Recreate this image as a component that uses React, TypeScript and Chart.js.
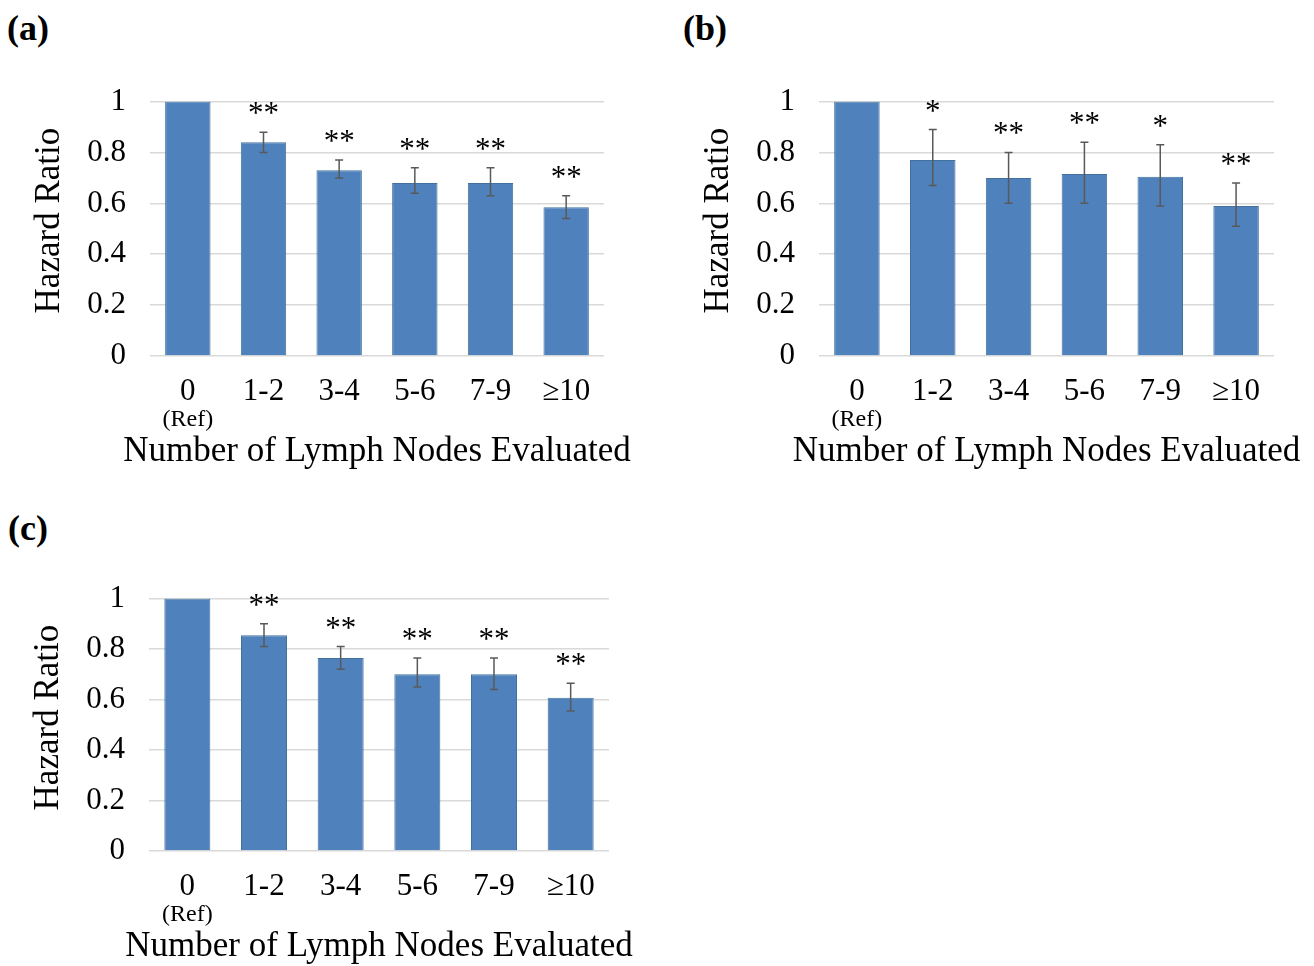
import React, { useEffect, useRef } from 'react';
import { Chart, registerables } from 'chart.js';

Chart.register(...registerables);

const categories = ['0', '1-2', '3-4', '5-6', '7-9', '≥10'];
const refNote = '(Ref)';
const yTickLabels = ['0', '0.2', '0.4', '0.6', '0.8', '1'];
const yTitle = 'Hazard Ratio';
const xTitle = 'Number of Lymph Nodes Evaluated';

// Panel (a)
const hrA = [1, 0.84, 0.73, 0.68, 0.68, 0.585];
const loA = [null, 0.8, 0.7, 0.64, 0.63, 0.54];
const hiA = [null, 0.88, 0.77, 0.74, 0.74, 0.63];
const starsA = ['', '**', '**', '**', '**', '**'];

// Panel (b)
const hrB = [1, 0.77, 0.7, 0.715, 0.705, 0.59];
const loB = [null, 0.67, 0.6, 0.6, 0.59, 0.51];
const hiB = [null, 0.89, 0.8, 0.84, 0.83, 0.68];
const starsB = ['', '*', '**', '**', '*', '**'];

// Panel (c)
const hrC = [1, 0.855, 0.765, 0.7, 0.7, 0.607];
const loC = [null, 0.81, 0.72, 0.65, 0.64, 0.555];
const hiC = [null, 0.9, 0.81, 0.765, 0.765, 0.665];
const starsC = ['', '**', '**', '**', '**', '**'];

const serif = "'Liberation Serif', 'Times New Roman', Times, serif";

type PanelProps = {
  hr: number[];
  lo: (number | null)[];
  hi: (number | null)[];
  stars: string[];
  left: number;
  top: number;
  width: number;
  height: number;
};

function Panel({ hr, lo, hi, stars, left, top, width, height }: PanelProps) {
  const ref = useRef<HTMLCanvasElement | null>(null);

  useEffect(() => {
    if (!ref.current) return;
    const extras = {
      id: 'extras',
      afterDatasetsDraw(chart: any) {
        const { ctx, chartArea } = chart;
        const x = chart.scales.x;
        const y = chart.scales.y;
        ctx.save();
        // error bars
        ctx.strokeStyle = '#595959';
        ctx.lineWidth = 1.5;
        for (let i = 0; i < hr.length; i++) {
          const l = lo[i];
          const h = hi[i];
          if (l == null || h == null) continue;
          const px = x.getPixelForValue(i);
          const yl = y.getPixelForValue(l);
          const yh = y.getPixelForValue(h);
          ctx.beginPath();
          ctx.moveTo(px, yl);
          ctx.lineTo(px, yh);
          ctx.moveTo(px - 4, yl);
          ctx.lineTo(px + 4, yl);
          ctx.moveTo(px - 4, yh);
          ctx.lineTo(px + 4, yh);
          ctx.stroke();
        }
        // significance stars
        ctx.fillStyle = '#000';
        ctx.font = `31px ${serif}`;
        ctx.textAlign = 'center';
        ctx.textBaseline = 'alphabetic';
        for (let i = 0; i < hr.length; i++) {
          if (!stars[i]) continue;
          const topVal = hi[i] != null ? (hi[i] as number) : hr[i];
          const px = x.getPixelForValue(i);
          const py = y.getPixelForValue(topVal);
          ctx.fillText(stars[i], px, py - 9);
        }
        // (Ref) note under the first category
        ctx.font = `24px ${serif}`;
        ctx.textBaseline = 'middle';
        ctx.fillText(refNote, x.getPixelForValue(0), chartArea.bottom + 64);
        // x axis title (not width-constrained)
        ctx.font = `35px ${serif}`;
        ctx.fillText(xTitle, (chartArea.left + chartArea.right) / 2, chartArea.bottom + 96);
        // y axis title
        ctx.translate(chartArea.left - 100, chartArea.top + 119);
        ctx.rotate(-Math.PI / 2);
        ctx.fillText(yTitle, 0, 0);
        ctx.restore();
      },
    };

    const chart = new Chart(ref.current, {
      type: 'bar',
      data: {
        labels: categories,
        datasets: [
          {
            data: hr,
            backgroundColor: '#4f81bd',
            borderColor: '#41719c',
            borderWidth: 1,
            barPercentage: 0.6,
            categoryPercentage: 1,
          },
        ],
      },
      options: {
        animation: false,
        responsive: false,
        maintainAspectRatio: false,
        layout: { padding: { top: 40, right: 30, left: 0, bottom: 0 } },
        plugins: { legend: { display: false }, tooltip: { enabled: false } },
        scales: {
          x: {
            grid: { display: false, drawTicks: false },
            border: { display: false },
            ticks: {
              font: { family: serif, size: 31, lineHeight: 1.2 },
              color: '#000',
              padding: 17,
              maxRotation: 0,
              autoSkip: false,
            },
            afterFit: (s: any) => {
              s.height = 124;
            },
          },
          y: {
            min: 0,
            max: 1,
            grid: { color: '#d9d9d9', lineWidth: 1.5, drawTicks: false },
            border: { display: false },
            ticks: {
              stepSize: 0.2,
              font: { family: serif, size: 31, lineHeight: 1.2 },
              color: '#000',
              padding: 24,
              callback: (v: any) => {
                const found = yTickLabels.find((t) => Math.abs(parseFloat(t) - Number(v)) < 1e-6);
                return found ?? '';
              },
            },
            afterFit: (s: any) => {
              s.width = 150;
            },
          },
        },
      } as any,
      plugins: [extras],
    });
    return () => chart.destroy();
  }, [hr, lo, hi, stars]);

  return (
    <canvas
      ref={ref}
      width={width}
      height={height}
      style={{ position: 'absolute', left, top, width, height }}
    />
  );
}

const labelStyle: React.CSSProperties = {
  position: 'absolute',
  fontFamily: serif,
  fontWeight: 'bold',
  fontSize: 36,
  lineHeight: 1,
  color: '#000',
};

export default function App() {
  return (
    <div
      style={{
        position: 'fixed',
        left: 0,
        top: 0,
        width: 1314,
        height: 966,
        overflow: 'hidden',
        background: '#fff',
      }}
    >
      <div style={{ ...labelStyle, left: 7, top: 10 }}>(a)</div>
      <div style={{ ...labelStyle, left: 683, top: 10 }}>(b)</div>
      <div style={{ ...labelStyle, left: 8, top: 510 }}>(c)</div>
      <Panel hr={hrA} lo={loA} hi={hiA} stars={starsA} left={0} top={59} width={634} height={421} />
      <Panel hr={hrB} lo={loB} hi={hiB} stars={starsB} left={669} top={59} width={635} height={421} />
      <Panel hr={hrC} lo={loC} hi={hiC} stars={starsC} left={-1} top={556} width={640} height={419} />
    </div>
  );
}
